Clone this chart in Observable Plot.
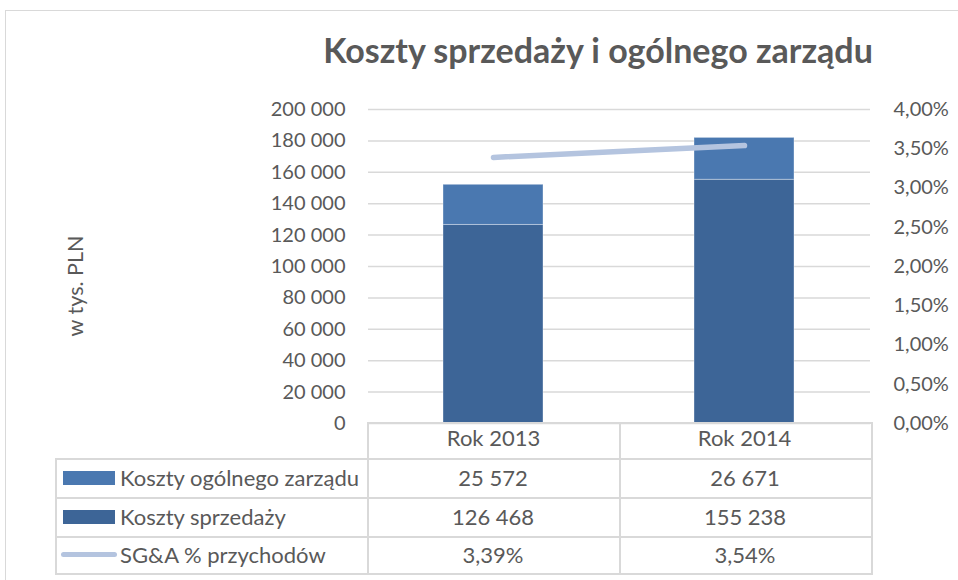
<!DOCTYPE html>
<html><head><meta charset="utf-8">
<script src="https://cdn.jsdelivr.net/npm/d3@7"></script>
<script src="https://cdn.jsdelivr.net/npm/@observablehq/plot@0.6"></script>
<style>
body{margin:0;background:#fff;font-family:Lato,"Open Sans",sans-serif;color:#595959;}
#wrap{position:relative;width:958px;height:580px;overflow:hidden;background:#fff;}
#frame{position:absolute;left:5px;top:10px;width:1000px;height:1000px;border-left:1.5px solid #d9d9d9;border-top:1.5px solid #d9d9d9;box-sizing:border-box;}
#title{position:absolute;left:238px;width:720px;top:30px;text-align:center;font-weight:bold;font-size:34px;line-height:40px;color:#595959;}
#ytitle{position:absolute;left:75px;top:286px;transform:translate(-50%,-50%) rotate(-90deg);font-size:21.5px;white-space:nowrap;color:#595959;}
#chart{position:absolute;left:0;top:0;}
.cell{position:absolute;box-sizing:border-box;font-size:22px;color:#595959;display:flex;align-items:center;}
.hl{position:absolute;background:#d9d9d9;height:1.5px;}
.vl{position:absolute;background:#d9d9d9;width:1.5px;}
.sw{display:inline-block;flex:none;}
</style>
</head><body>
<div id="wrap">
  <div id="frame"></div>
  <div id="chart"></div>
  <div id="title">Koszty sprzedaży i ogólnego zarządu</div>
  <div id="ytitle">w tys. PLN</div>
  <div id="table"></div>
</div>
<script>
// ---- data ----
const years = ["Rok 2013", "Rok 2014"];
const kosztySprzedazy = [126468, 155238];
const kosztyZarzadu = [25572, 26671];
const sgaPct = [3.39, 3.54];
const seriesNames = ["Koszty ogólnego zarządu", "Koszty sprzedaży", "SG&A % przychodów"];
const seriesColors = ["#4a78b0", "#3d6597", "#b4c4df"];
const leftTicks = [0, 20000, 40000, 60000, 80000, 100000, 120000, 140000, 160000, 180000, 200000];
const rightTicks = [0, 0.5, 1, 1.5, 2, 2.5, 3, 3.5, 4];
const Y_MAX = 200000, PCT_MAX = 4;

const toY = p => p / PCT_MAX * Y_MAX;
const fmtNum = d => d3.format(",")(d).replace(/,/g, "\u00a0");
const fmtPct = p => p.toFixed(2).replace(".", ",") + "%";

const bars = years.flatMap((y, i) => [
  {year: y, series: seriesNames[1], value: kosztySprzedazy[i]},
  {year: y, series: seriesNames[0], value: kosztyZarzadu[i]}
]);
const line = years.map((y, i) => ({year: y, pct: sgaPct[i]}));

const W = 958, H = 580, mL = 368, mR = 88, mT = 109, mB = 157;

const plot = Plot.plot({
  width: W, height: H,
  marginTop: mT, marginBottom: mB, marginLeft: mL, marginRight: mR,
  style: {fontFamily: "Lato, 'Open Sans', sans-serif", fontSize: "20px", color: "#595959", background: "transparent", overflow: "visible"},
  x: {domain: years, paddingInner: 0.6, paddingOuter: 0.3, label: null},
  y: {domain: [0, Y_MAX], label: null},
  color: {domain: seriesNames.slice(0, 2), range: seriesColors.slice(0, 2)},
  marks: [
    Plot.gridY(leftTicks, {stroke: "#d9d9d9", strokeOpacity: 1, strokeWidth: 1.5}),
    Plot.axisY(leftTicks, {tickSize: 0, tickPadding: 23, tickFormat: fmtNum, label: null, fill: "#595959"}),
    Plot.axisY(rightTicks.map(toY), {anchor: "right", tickSize: 0, tickPadding: 23, tickFormat: d => fmtPct(d / Y_MAX * PCT_MAX), label: null, fill: "#595959"}),
    Plot.axisX({tickSize: 0, tickPadding: 7, label: null, fill: "#595959", fontSize: 22}),
    Plot.barY(bars, {x: "year", y: "value", fill: "series", stroke: "#ffffff", strokeOpacity: 0.35, strokeWidth: 1}),
    Plot.line(line, {x: "year", y: d => toY(d.pct), stroke: seriesColors[2], strokeWidth: 5.5, strokeLinecap: "round"})
  ]
});
document.getElementById("chart").appendChild(plot);

// ---- data table (legend + values) ----
const tbl = document.getElementById("table");
const colX = [55, 367, 619, 871];
const rowY = [422, 458, 497, 536, 573];
function add(cls, style, html) {
  const d = document.createElement("div");
  d.className = cls;
  Object.assign(d.style, style);
  if (html != null) d.innerHTML = html;
  tbl.appendChild(d);
  return d;
}
add("hl", {left: colX[1] + "px", top: rowY[0] + "px", width: (colX[3] - colX[1] + 1.5) + "px"});
for (let r = 1; r < rowY.length; r++) add("hl", {left: colX[0] + "px", top: rowY[r] + "px", width: (colX[3] - colX[0] + 1.5) + "px"});
add("vl", {left: colX[0] + "px", top: rowY[1] + "px", height: (rowY[4] - rowY[1]) + "px"});
for (let c = 1; c < colX.length; c++) add("vl", {left: colX[c] + "px", top: rowY[0] + "px", height: (rowY[4] - rowY[0]) + "px"});

const rowValues = [kosztyZarzadu.map(fmtNum), kosztySprzedazy.map(fmtNum), sgaPct.map(fmtPct)];
const swatches = [
  `<span class="sw" style="width:52px;height:14px;background:${seriesColors[0]};margin-left:8px;margin-right:5px"></span>`,
  `<span class="sw" style="width:52px;height:14px;background:${seriesColors[1]};margin-left:8px;margin-right:5px"></span>`,
  `<span class="sw" style="width:56px;height:5px;border-radius:3px;background:${seriesColors[2]};margin-left:6px;margin-right:3px"></span>`
];
for (let r = 0; r < 3; r++) {
  const top = rowY[r + 1], h = rowY[r + 2] - rowY[r + 1];
  add("cell", {left: colX[0] + "px", top: top + "px", width: (colX[1] - colX[0]) + "px", height: h + "px"}, swatches[r] + "<span>" + seriesNames[r].replace(/&/g, "&amp;") + "</span>");
  for (let c = 0; c < 2; c++) {
    add("cell", {left: colX[c + 1] + "px", top: top + "px", width: (colX[c + 2] - colX[c + 1]) + "px", height: h + "px", justifyContent: "center"}, rowValues[r][c]);
  }
}
</script>
</body></html>
